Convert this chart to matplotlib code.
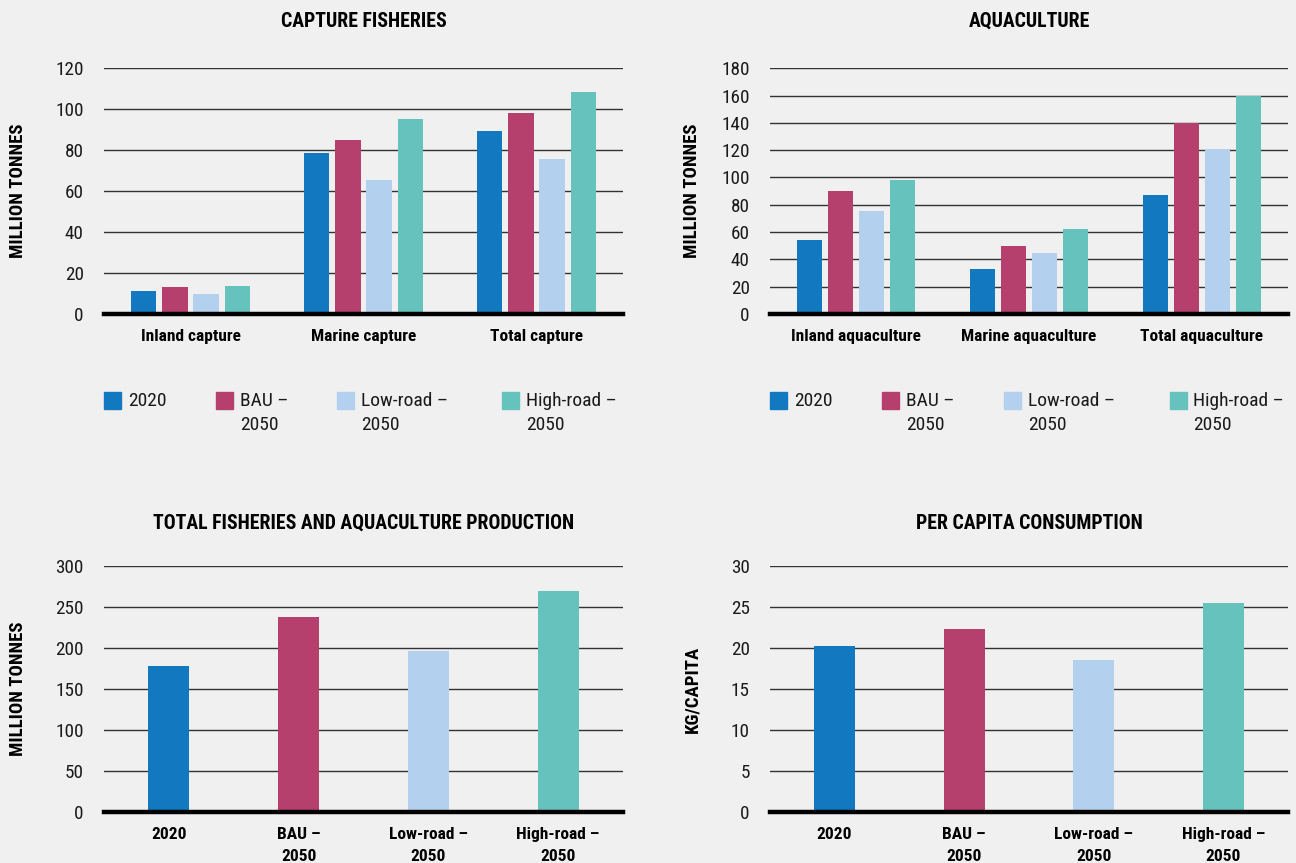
import numpy as np
import matplotlib.pyplot as plt
from matplotlib.patches import Rectangle

plt.rcParams['font.family'] = ['Roboto Condensed', 'PT Sans Narrow', 'DejaVu Sans']

# --- data ---
series = ['2020', 'BAU –\n2050', 'Low-road –\n2050', 'High-road –\n2050']
colors = ['#1279c0', '#b5406e', '#b3d1ee', '#66c2bd']

capture_cats = ['Inland capture', 'Marine capture', 'Total capture']
capture_2020 = [11.5, 78.5, 89.5]
capture_bau = [13.0, 85.0, 98.0]
capture_low = [10.0, 65.5, 75.5]
capture_high = [13.5, 95.0, 108.5]

aqua_cats = ['Inland aquaculture', 'Marine aquaculture', 'Total aquaculture']
aqua_2020 = [54.5, 33.0, 87.5]
aqua_bau = [90.0, 50.0, 140.0]
aqua_low = [75.5, 45.0, 120.5]
aqua_high = [98.5, 62.0, 160.0]

total_prod = [178, 238, 196, 270]
per_capita = [20.2, 22.3, 18.5, 25.5]

BG = '#f0f0f0'
fig = plt.figure(figsize=(12.96, 8.63), dpi=100, facecolor=BG)


def style_axes(ax, ymax, step, title, ylabel, title_pad, ylab_x):
    ax.set_facecolor(BG)
    ax.set_ylim(0, ymax)
    ax.set_yticks(np.arange(0, ymax + 1, step))
    ax.grid(axis='y', color='#333333', linewidth=1.0)
    ax.set_axisbelow(True)
    for s in ['top', 'right', 'left']:
        ax.spines[s].set_visible(False)
    ax.spines['bottom'].set_linewidth(3.2)
    ax.spines['bottom'].set_color('black')
    ax.spines['bottom'].set_zorder(5)
    ax.tick_params(axis='y', length=0, pad=14.5, labelsize=13.8, labelcolor='#1a1a1a')
    ax.tick_params(axis='x', length=0, pad=11, labelsize=12.5)
    for lab in ax.get_xticklabels():
        lab.set_fontweight('bold')
    ax.set_title(title, fontsize=14.2, fontweight='bold', pad=title_pad)
    ax.set_ylabel(ylabel, fontsize=13.5, fontweight='bold')
    ax.yaxis.set_label_coords(ylab_x, 0.5)


def grouped(ax, cats, vals):
    x = np.arange(len(cats))
    pitch = 0.18
    for i, v in enumerate(vals):
        ax.bar(x + (i - 1.5) * pitch, v, width=0.146, color=colors[i], zorder=3)
    ax.set_xlim(-0.5, len(cats) - 0.5)
    ax.set_xticks(x)
    ax.set_xticklabels(cats)


def legend_row(ax, xs):
    for i, lab in enumerate(series):
        ax.add_patch(Rectangle((xs[i], -0.386), 0.033, 0.069, transform=ax.transAxes,
                               color=colors[i], clip_on=False))
        ax.text(xs[i] + 0.046, -0.318, lab, transform=ax.transAxes, va='top', ha='left',
                fontsize=14, linespacing=1.42, color='#1a1a1a')


def single(ax, vals):
    x = np.arange(len(vals))
    ax.bar(x, vals, width=0.315, color=colors, zorder=3)
    ax.set_xlim(-0.5, len(vals) - 0.5)
    ax.set_xticks(x)
    ax.set_xticklabels(series)
    for lab in ax.get_xticklabels():
        lab.set_linespacing(1.6)


ax1 = fig.add_axes([0.0802, 0.636, 0.4005, 0.285])
grouped(ax1, capture_cats, [capture_2020, capture_bau, capture_low, capture_high])
style_axes(ax1, 120, 20, 'CAPTURE FISHERIES', 'MILLION TONNES', 30, -0.148)
legend_row(ax1, [0, 0.216, 0.449, 0.767])

ax2 = fig.add_axes([0.594, 0.636, 0.4, 0.285])
grouped(ax2, aqua_cats, [aqua_2020, aqua_bau, aqua_low, aqua_high])
style_axes(ax2, 180, 20, 'AQUACULTURE', 'MILLION TONNES', 30, -0.133)
legend_row(ax2, [0, 0.216, 0.452, 0.771])

ax3 = fig.add_axes([0.0802, 0.0591, 0.4005, 0.285])
single(ax3, total_prod)
style_axes(ax3, 300, 50, 'TOTAL FISHERIES AND AQUACULTURE PRODUCTION', 'MILLION TONNES', 27, -0.148)

ax4 = fig.add_axes([0.594, 0.0591, 0.4, 0.285])
single(ax4, per_capita)
style_axes(ax4, 30, 5, 'PER CAPITA CONSUMPTION', 'KG/CAPITA', 27, -0.133)

fig.savefig('out.png', dpi=100, facecolor=BG)
